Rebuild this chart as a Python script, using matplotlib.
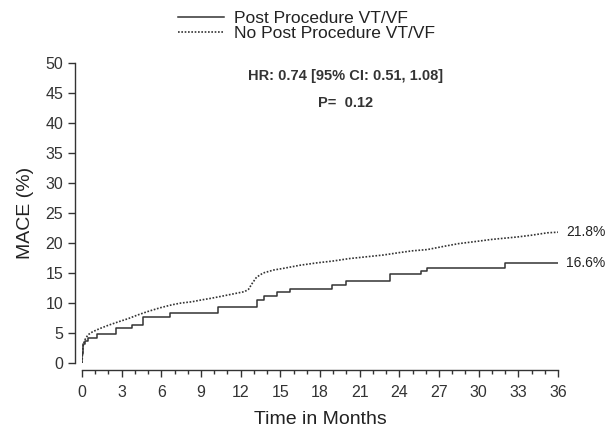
import matplotlib
matplotlib.use("Agg")
import matplotlib.pyplot as plt
from matplotlib.ticker import MultipleLocator

# Kaplan-Meier style cumulative MACE curves (percent)
post_months = [0, 0.02, 0.05, 0.1, 0.2, 0.45, 1.1, 2.55, 3.75, 4.6, 6.65,
               10.25, 13.25, 13.75, 14.75, 15.75, 18.9, 20.0, 23.3, 25.6,
               26.1, 32.0, 36.0]
post_mace = [0, 1.5, 2.5, 3.2, 3.6, 4.1, 4.9, 5.8, 6.4, 7.7, 8.4,
             9.4, 10.5, 11.2, 11.9, 12.4, 13.0, 13.7, 14.8, 15.3,
             15.9, 16.6, 16.6]

no_post_months = [0, 0.05, 0.1, 0.2, 0.45, 0.8, 1.3, 2.0, 2.8, 3.5, 4.2, 5.0,
                  5.9, 6.8, 7.5, 8.3, 9.0, 9.8, 10.5, 11.4, 12.3, 12.6, 12.85,
                  13.2, 13.7, 14.5, 15.3, 16.5, 17.8, 19.0, 20.2, 21.5, 22.8,
                  24.0, 25.0, 26.1, 27.5, 28.5, 29.6, 31.0, 32.9, 34.0, 35.2,
                  36.0]
no_post_mace = [0, 2.0, 3.0, 3.8, 4.7, 5.2, 5.7, 6.3, 6.9, 7.4, 8.0, 8.6,
                9.2, 9.7, 10.0, 10.2, 10.5, 10.8, 11.1, 11.5, 11.9, 12.3, 13.2,
                14.3, 15.0, 15.5, 15.8, 16.3, 16.7, 17.0, 17.4, 17.7, 18.0,
                18.4, 18.7, 18.9, 19.5, 19.9, 20.2, 20.6, 21.0, 21.3, 21.7,
                21.8]

series_labels = ["Post Procedure VT/VF", "No Post Procedure VT/VF"]
end_labels = ["16.6%", "21.8%"]
x_ticks = list(range(0, 37, 3))
y_ticks = list(range(0, 51, 5))

plt.rcParams["font.family"] = ["Liberation Sans", "DejaVu Sans"]
ink = "#333333"

fig = plt.figure(figsize=(6.11, 4.32), dpi=100)
ax = fig.add_axes([0.1342, 0.1597, 0.7791, 0.6945])

ax.step(post_months, post_mace, where="post", color=ink, lw=1.1,
        label=series_labels[0])
ax.plot(no_post_months, no_post_mace, color=ink, lw=1.2, ls=(0, (1, 1)),
        label=series_labels[1])

ax.set_xlim(0, 36)
ax.set_ylim(0, 50)
ax.set_xticks(x_ticks)
ax.set_yticks(y_ticks)
ax.xaxis.set_minor_locator(MultipleLocator(1))

for side in ("top", "right"):
    ax.spines[side].set_visible(False)
for side in ("left", "bottom"):
    ax.spines[side].set_position(("outward", 5))
    ax.spines[side].set_color(ink)
    ax.spines[side].set_linewidth(1.0)

ax.tick_params(axis="both", which="major", direction="out", length=5,
               width=1.0, color=ink, labelsize=11.5, labelcolor="#333333")
ax.tick_params(axis="x", which="minor", direction="out", length=3,
               width=1.0, color=ink)
ax.tick_params(axis="x", pad=6)

ax.set_xlabel("Time in Months", fontsize=14, color="#222222", labelpad=8)
ax.set_ylabel("MACE (%)", fontsize=14, color="#222222", labelpad=8)

# end-of-follow-up values
ax.annotate(end_labels[0], xy=(post_months[-1], post_mace[-1]),
            xytext=(6, 0), textcoords="offset points", va="center",
            fontsize=10, color="#222222", annotation_clip=False)
ax.annotate(end_labels[1], xy=(no_post_months[-1], no_post_mace[-1]),
            xytext=(6, 0), textcoords="offset points", va="center",
            fontsize=10, color="#222222", annotation_clip=False)

ax.text(0.553, 0.955, "HR: 0.74 [95% CI: 0.51, 1.08]", transform=ax.transAxes,
        ha="center", va="center", fontsize=10.5, fontweight="semibold",
        color="#333333")
ax.text(0.553, 0.865, "P=  0.12", transform=ax.transAxes, ha="center",
        va="center", fontsize=10.5, fontweight="semibold", color="#333333")

fig.legend(loc="upper left", bbox_to_anchor=(0.275, 0.998), frameon=False,
           fontsize=12.5, handlelength=2.6, handletextpad=0.6,
           labelspacing=-0.05, borderaxespad=0.2, labelcolor="#222222")

fig.savefig("out.png", dpi=100)
plt.close(fig)
